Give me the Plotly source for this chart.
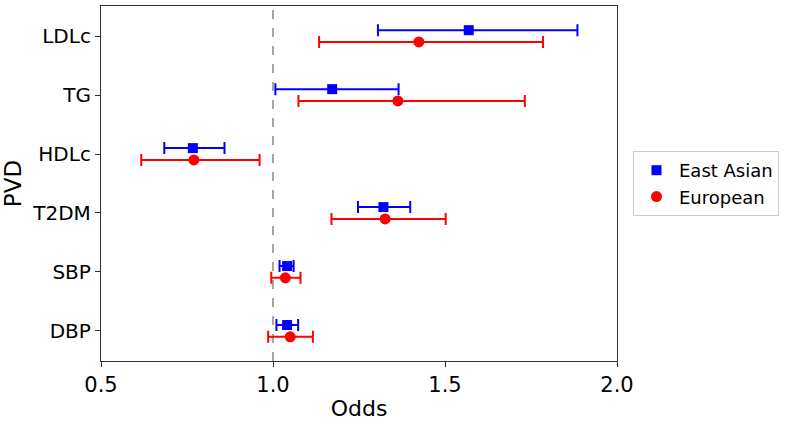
import plotly.graph_objects as go

categories = ["LDLc", "TG", "HDLc", "T2DM", "SBP", "DBP"]
ea_or = [1.569, 1.172, 0.767, 1.321, 1.041, 1.041]
ea_lo = [1.305, 1.007, 0.684, 1.247, 1.019, 1.010]
ea_hi = [1.885, 1.365, 0.859, 1.399, 1.060, 1.073]
eu_or = [1.424, 1.363, 0.770, 1.326, 1.036, 1.050]
eu_lo = [1.134, 1.074, 0.617, 1.170, 0.995, 0.986]
eu_hi = [1.785, 1.732, 0.961, 1.502, 1.080, 1.116]
x_ticks = [0.5, 1.0, 1.5, 2.0]

n = len(categories)
ypos = [n - 1 - i for i in range(n)]
off = 0.1

fig = go.Figure()
fig.add_trace(go.Scatter(
    x=ea_or, y=[p + off for p in ypos], mode="markers", name="East Asian",
    marker=dict(symbol="square", color="blue", size=10),
    error_x=dict(type="data", symmetric=False,
                 array=[h - o for h, o in zip(ea_hi, ea_or)],
                 arrayminus=[o - l for o, l in zip(ea_or, ea_lo)],
                 color="blue", thickness=2, width=6),
))
fig.add_trace(go.Scatter(
    x=eu_or, y=[p - off for p in ypos], mode="markers", name="European",
    marker=dict(symbol="circle", color="red", size=11),
    error_x=dict(type="data", symmetric=False,
                 array=[h - o for h, o in zip(eu_hi, eu_or)],
                 arrayminus=[o - l for o, l in zip(eu_or, eu_lo)],
                 color="red", thickness=2, width=6),
))

fig.add_vline(x=1.0, line=dict(color="#a6a6a6", width=2, dash="dash"), layer="below")

fig.update_layout(
    width=800, height=424,
    margin=dict(l=101, r=183, t=6, b=63),
    plot_bgcolor="white", paper_bgcolor="white",
    font=dict(family="DejaVu Sans", color="black"),
    showlegend=True,
    legend=dict(x=1.031, y=0.5, xanchor="left", yanchor="middle",
                bordercolor="#cccccc", borderwidth=1,
                font=dict(size=18), itemwidth=35),
)
fig.update_xaxes(
    range=[0.5, 2.0], tickvals=x_ticks, ticktext=[f"{t:.1f}" for t in x_ticks],
    tickfont=dict(size=21), title=dict(text="Odds", font=dict(size=22), standoff=4),
    showgrid=False, zeroline=False, showline=True, linecolor="#333333", linewidth=1.2,
    mirror=True, ticks="outside", ticklen=5, tickcolor="#333333",
)
fig.update_yaxes(
    range=[-0.51, 5.51], tickvals=ypos, ticktext=categories,
    tickfont=dict(size=20), title=dict(text="PVD", font=dict(size=23), standoff=6),
    showgrid=False, zeroline=False, showline=True, linecolor="#333333", linewidth=1.2,
    mirror=True, ticks="outside", ticklen=5, tickcolor="#333333",
)

fig.write_html("out.html", config={"displayModeBar": False},
               post_script="document.body.style.margin='0px';")
